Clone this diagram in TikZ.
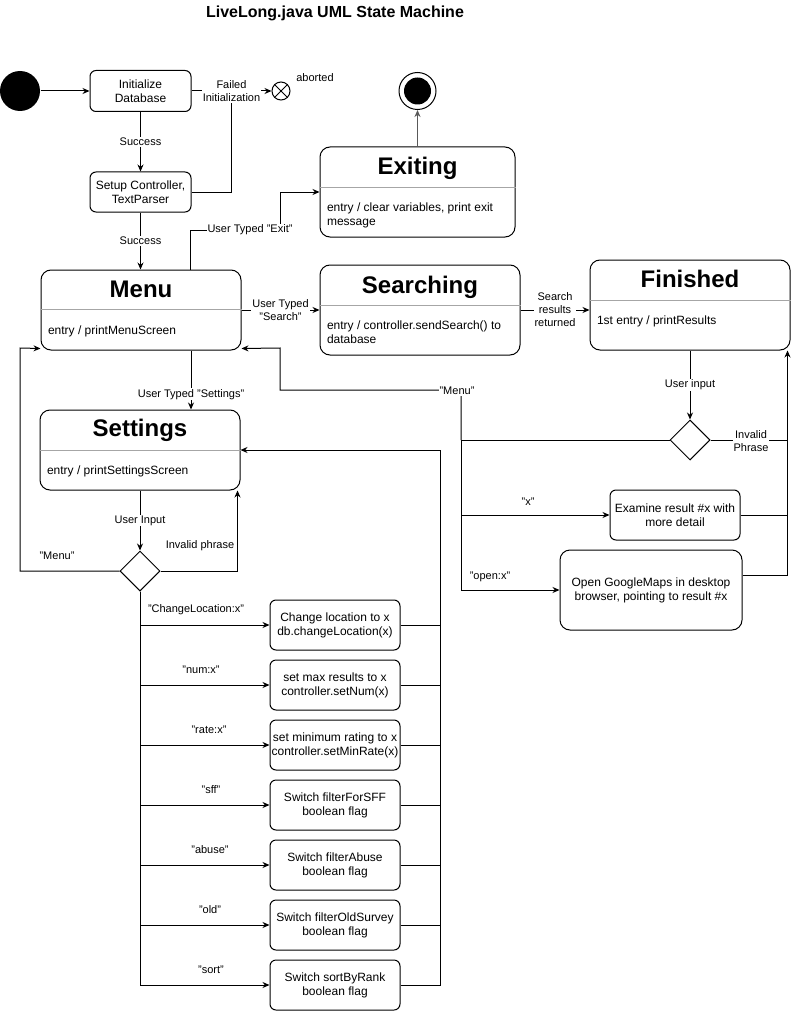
\documentclass[tikz,border=0pt]{standalone}
\usepackage{fontspec}
\setmainfont{Liberation Sans}
\usetikzlibrary{arrows.meta,shapes.geometric,calc}
\newcommand\fsz[2]{\fontsize{#1}{#2}\selectfont}
\begin{document}
\begin{tikzpicture}[x=1pt,y=-1pt,line width=1pt,
  arr/.style={-{Stealth[length=7pt,width=6pt]}},
  sbox/.style={draw,rounded corners=6pt,minimum width=130pt,minimum height=50pt,align=center,font=\fsz{12}{14},inner sep=0pt},
  state/.style={draw,rounded corners=10pt,minimum width=200pt,minimum height=#1,inner sep=0pt},
  stitle/.style={font=\fsz{24}{28}\bfseries,inner sep=0pt,anchor=base},
  sentry/.style={font=\fsz{12}{14},align=left,anchor=north west,inner sep=0pt},
  divline/.style={draw=gray!70,line width=1pt},
  lbl/.style={fill=white,inner sep=1pt,font=\fsz{11}{13},align=center},
  dia/.style={draw,diamond,fill=white,minimum width=40pt,minimum height=40pt,inner sep=0pt,aspect=1}]
\useasboundingbox (0,0) rectangle (797,1011);

% title
\node[font=\fsz{16}{19}\bfseries,inner sep=0pt] (title) at (335,13) {LiveLong.java UML State Machine};

% initial part
\node[circle,fill=black,minimum size=40pt,inner sep=0pt] (start) at (20,91) {};
\node[sbox,minimum width=101pt,minimum height=41pt] (init) at (140.5,91) {Initialize\\Database};
\node[sbox,minimum width=101pt,minimum height=40pt] (setup) at (140.5,192) {Setup Controller,\\TextParser};
\node[draw,circle,minimum size=18pt,inner sep=0pt] (ab) at (281,91) {};
\draw (ab.45) -- (ab.225) (ab.135) -- (ab.315);
\node[font=\fsz{11}{13},inner sep=0pt] (abl) at (315,78) {aborted};

\draw[arr] (start) -- (init);
\draw[arr] (init) -- node[lbl] (flbl) {Failed\\Initialization} (ab);
\draw (setup.east) -| (flbl.south);
\draw[arr] (init) -- node[lbl] (suc1) {Success} (setup);

% states
\node[state=80pt] (menu) at (141,310) {};
\node[stitle] (menut) at ($(menu.north)+(0,28)$) {Menu};
\draw[divline] ($(menu.north west)+(0,40)$) -- ($(menu.north east)+(0,40)$);
\node[sentry] (menue) at ($(menu.north west)+(7,56)$) {entry / printMenuScreen};

\node[state=90pt,minimum width=195pt] (exiting) at (417.5,192) {};
\node[stitle] (exitingt) at ($(exiting.north)+(0,28.5)$) {Exiting};
\draw[divline] ($(exiting.north west)+(0,41)$) -- ($(exiting.north east)+(0,41)$);
\node[sentry] (exitinge) at ($(exiting.north west)+(7,56)$) {entry / clear variables, print exit\\message};

\node[state=90pt] (search) at (420,310) {};
\node[stitle] (searcht) at ($(search.north)+(0,28.5)$) {Searching};
\draw[divline] ($(search.north west)+(0,41)$) -- ($(search.north east)+(0,41)$);
\node[sentry] (searche) at ($(search.north west)+(7,56)$) {entry / controller.sendSearch() to\\database};

\node[state=90pt] (fin) at (690,305) {};
\node[stitle] (fint) at ($(fin.north)+(0,27.5)$) {Finished};
\draw[divline] ($(fin.north west)+(0,41)$) -- ($(fin.north east)+(0,41)$);
\node[sentry] (fine) at ($(fin.north west)+(7,56)$) {1st entry / printResults};

\node[state=80pt] (settings) at (140,450) {};
\node[stitle] (settingst) at ($(settings.north)+(0,27)$) {Settings};
\draw[divline] ($(settings.north west)+(0,41)$) -- ($(settings.north east)+(0,41)$);
\node[sentry] (settingse) at ($(settings.north west)+(7,56)$) {entry / printSettingsScreen};

% end state
\node[draw,circle,minimum size=37pt,inner sep=0pt] (endo) at (417.5,91) {};
\node[circle,fill=black,minimum size=27pt,inner sep=0pt] (endi) at (endo) {};
\draw[arr,draw=gray!70!black] (exiting.north) -- (endo.south);

% setup -> menu
\draw[arr] (setup.south) -- node[lbl] (suc2) {Success} (setup.south |- menu.north);

% menu -> exiting
\draw[arr] ($(menu.north)+(49,0)$) |- (280,230) |- (exiting.west);
\node[lbl] (exitl) at (250,230) {User Typed "Exit"};

% menu -> searching
\draw[arr] (menu.east) -- node[lbl] (srchl) {User Typed\\"Search"} (search.west);

% searching -> finished
\draw[arr] (search.east) -- node[lbl] (resl) {Search\\results\\returned} (search.east -| fin.west);

% finished -> diamond
\node[dia] (fdia) at (690,440) {};
\draw[arr] (fin.south) -- node[lbl] (uil) {User input} (fdia.north);
\draw[arr] (fdia.east) -| ($(fin.south east)+(-3,0)$);
\node[lbl] (invl) at (751,441) {Invalid\\Phrase};

% result boxes
\node[sbox] (exam) at (675,515) {Examine result \#x with\\more detail};
\node[sbox,minimum width=182pt,minimum height=80pt,rounded corners=10pt] (open) at (651,590) {Open GoogleMaps in desktop\\browser, pointing to result \#x};
\coordinate (hub) at (461,440);
\draw (fdia.west) -- (hub);
\draw[arr] (hub) -- (461,390) -- (280,390) -- (280,348) -- ($(menu.south east)+(0,-2)$);
\node[lbl] (menul1) at (457,391) {"Menu"};
\draw[arr] (hub) |- (exam.west);
\node[lbl] (xl) at (528,502) {"x"};
\draw[arr] (hub) |- (open.west);
\node[lbl] (openl) at (490,577) {"open:x"};
\draw (exam.east) -| ($(fin.south east)+(-3,0)$);
\draw ($(open.east)+(0,-15)$) -| ($(fin.south east)+(-3,0)$);

% menu -> settings
\draw[arr] ($(menu.south)+(50,0)$) -- node[lbl,pos=0.74] (setl) {User Typed "Settings"} ($(settings.north)+(51,0)$);

% settings -> diamond
\node[dia] (sdia) at (140,571) {};
\draw[arr] (settings.south) -- node[lbl] (uil2) {User Input} (sdia.north);
\draw[arr] (sdia.east) -| ($(settings.south east)+(-3,0)$);
\node[lbl] (invl2) at (200,546) {Invalid phrase};
\draw[arr] (sdia.west) -| (20,348) -- ($(menu.south west)+(0,-2)$);
\node[lbl] (menul2) at (57,556) {"Menu"};

% settings branches
\node[sbox] (b1) at (335,625) {Change location to x\\db.changeLocation(x)};
\node[sbox] (b2) at (335,685) {set max results to x\\controller.setNum(x)};
\node[sbox] (b3) at (335,745) {set minimum rating to x\\controller.setMinRate(x)};
\node[sbox] (b4) at (335,805) {Switch filterForSFF\\boolean flag};
\node[sbox] (b5) at (335,865) {Switch filterAbuse\\boolean flag};
\node[sbox] (b6) at (335,925) {Switch filterOldSurvey\\boolean flag};
\node[sbox] (b7) at (335,985) {Switch sortByRank\\boolean flag};
\foreach \b in {b1,b2,b3,b4,b5,b6,b7}{
  \draw[arr] (sdia.south) |- (\b.west);
  \draw (\b.east) -| (440,450);
}
\draw[arr] (440,450) -- (settings.east);
\node[lbl] (l1) at (196,610) {"ChangeLocation:x"};
\node[lbl] (l2) at (201,670) {"num:x"};
\node[lbl] (l3) at (209,730) {"rate:x"};
\node[lbl] (l4) at (211,790) {"sff"};
\node[lbl] (l5) at (210,850) {"abuse"};
\node[lbl] (l6) at (210,910) {"old"};
\node[lbl] (l7) at (211,970) {"sort"};
\end{tikzpicture}
\end{document}
